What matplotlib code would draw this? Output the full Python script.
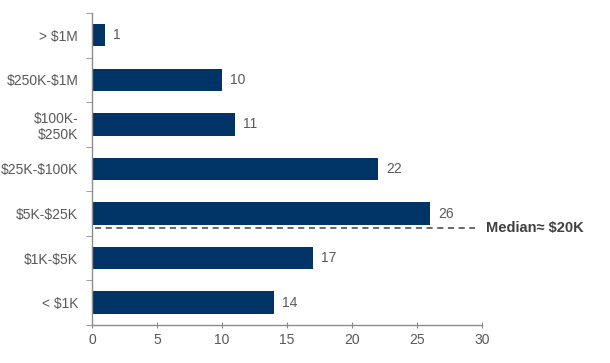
import matplotlib

matplotlib.use("Agg")

import matplotlib.pyplot as plt
import numpy as np

categories = ["< $1K", "$1K-$5K", "$5K-$25K", "$25K-$100K", "$100K-\n$250K", "$250K-$1M", "> $1M"]
counts = [14, 17, 26, 22, 11, 10, 1]
median_label = "Median\u2248 $20K"
median_pos = 1.68  # between $1K-$5K and $5K-$25K rows

plt.rcParams["font.family"] = ["Liberation Sans", "DejaVu Sans"]

bar_color = "#003366"
text_color = "#595959"
axis_color = "#8c8c8c"

fig = plt.figure(figsize=(6.10, 3.63), dpi=100)
ax = fig.add_axes([0.151, 0.105, 0.639, 0.859])

y = np.arange(len(categories))
ax.barh(y, counts, height=0.5, color=bar_color, zorder=2)
for yi, v in zip(y, counts):
    ax.annotate(str(v), (v, yi), xytext=(6, 0), textcoords="offset points",
                va="center", ha="left", fontsize=10, color=text_color)

ax.plot([0.2, 29.5], [median_pos, median_pos], ls=(0, (4, 3)), color="#404040", lw=1.1, zorder=3)
ax.annotate(median_label, (30, median_pos), xytext=(3, 0), textcoords="offset points",
            va="center", ha="left", fontsize=10.5, fontweight="bold", color="#404040",
            annotation_clip=False, parse_math=False)

ax.set_xlim(0, 30)
ax.set_ylim(-0.5, len(categories) - 0.5)
ax.set_xticks(np.arange(0, 31, 5))
ax.set_yticks(y)
labels = ax.set_yticklabels(categories, ha="right")
for t in labels:
    t.set_parse_math(False)
ax.set_yticks(np.arange(-0.5, len(categories), 1), minor=True)
ax.tick_params(axis="y", which="major", length=0, pad=10, labelsize=10, labelcolor=text_color)
ax.tick_params(axis="y", which="minor", length=4, color=axis_color, direction="out")
ax.tick_params(axis="x", length=4, color=axis_color, direction="inout", labelsize=10,
               labelcolor=text_color, pad=4)

for side in ["top", "right"]:
    ax.spines[side].set_visible(False)
for side in ["left", "bottom"]:
    ax.spines[side].set_color(axis_color)
    ax.spines[side].set_linewidth(1)

fig.savefig("out.png", dpi=100)
plt.close(fig)
